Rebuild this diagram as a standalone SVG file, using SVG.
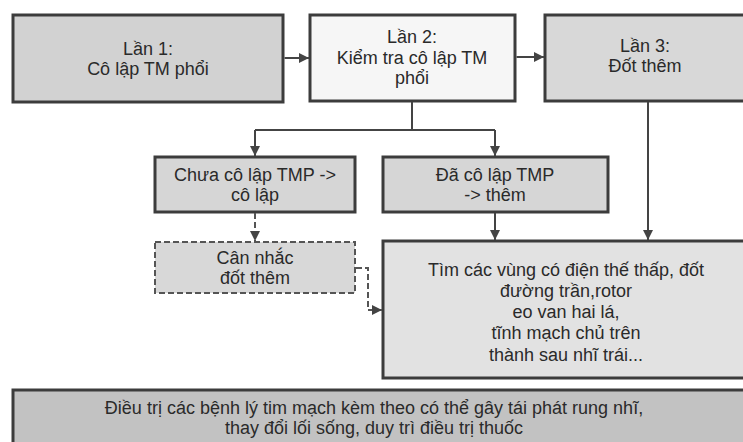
<svg xmlns="http://www.w3.org/2000/svg" width="743" height="442" viewBox="0 0 743 442">
<style>
.box{stroke:#3c3c3c;stroke-width:3}
.t{font-family:"Liberation Sans",Arial,sans-serif;font-size:18px;fill:#2a2a2a;text-anchor:middle}
.c{fill:none;stroke:#444;stroke-width:2}
.d{fill:none;stroke:#555;stroke-width:2;stroke-dasharray:6 3}
</style>
<defs>
<marker id="ah" viewBox="0 0 10 10" refX="10" refY="5" markerWidth="5" markerHeight="5" orient="auto" markerUnits="strokeWidth">
<path d="M0,0 L10,5 L0,10 z" fill="#444"/>
</marker>
</defs>
<rect width="743" height="442" fill="#ffffff"/>
<g id="n1">
<rect class="box" x="13" y="15" width="270" height="87" fill="#d2d2d2"/>
<text class="t" x="148" y="55">Lần 1:</text>
<text class="t" x="148" y="75">Cô lập TM phổi</text>
</g>
<g id="n2">
<rect class="box" x="310" y="15" width="205" height="86" fill="#f6f6f6"/>
<text class="t" x="412" y="43">Lần 2:</text>
<text class="t" x="412" y="64">Kiểm tra cô lập TM</text>
<text class="t" x="412" y="84">phổi</text>
</g>
<g id="n3">
<rect class="box" x="545" y="15" width="202" height="86" fill="#d8d8d8"/>
<text class="t" x="645" y="52">Lần 3:</text>
<text class="t" x="645" y="72">Đốt thêm</text>
</g>
<g id="n4">
<rect class="box" x="155" y="157" width="200" height="55" fill="#d6d6d6" stroke-width="2.5"/>
<text class="t" x="255" y="181">Chưa cô lập TMP -&gt;</text>
<text class="t" x="255" y="201">cô lập</text>
</g>
<g id="n5">
<rect class="box" x="383" y="157" width="225" height="55" fill="#d6d6d6" stroke-width="2.5"/>
<text class="t" x="495" y="181">Đã cô lập TMP</text>
<text class="t" x="495" y="201">-&gt; thêm</text>
</g>
<g id="n6">
<rect x="155" y="242" width="200" height="51" fill="#d8d8d8" stroke="#555" stroke-width="2" stroke-dasharray="6 3"/>
<text class="t" x="255" y="264">Cân nhắc</text>
<text class="t" x="255" y="284">đốt thêm</text>
</g>
<g id="n7">
<rect class="box" x="383" y="241" width="362" height="137" fill="#e2e2e2"/>
<text class="t" x="566" y="276">Tìm các vùng có điện thế thấp, đốt</text>
<text class="t" x="566" y="297">đường trần,rotor</text>
<text class="t" x="566" y="318">eo van hai lá,</text>
<text class="t" x="566" y="339">tĩnh mạch chủ trên</text>
<text class="t" x="566" y="361">thành sau nhĩ trái...</text>
</g>
<g id="n8">
<rect class="box" x="13" y="390" width="732" height="60" fill="#c2c2c2"/>
<text class="t" x="374" y="414">Điều trị các bệnh lý tim mạch kèm theo có thể gây tái phát rung nhĩ,</text>
<text class="t" x="374" y="434">thay đổi lối sống, duy trì điều trị thuốc</text>
</g>
<g id="connectors">
<path class="c" d="M284.5,58 H309" stroke-width="3" marker-end="url(#ah)"/>
<path class="c" d="M516.5,57 H544" stroke-width="3" marker-end="url(#ah)"/>
<path class="c" d="M412,102 V130 H495 M412,130 H255"/>
<path class="c" d="M255,130 V156" marker-end="url(#ah)"/>
<path class="c" d="M495,130 V156" marker-end="url(#ah)"/>
<path class="c" d="M495,213 V240" marker-end="url(#ah)"/>
<path class="c" d="M648,102 V240" marker-end="url(#ah)"/>
<path class="d" d="M255,213 V241" marker-end="url(#ah)"/>
<path class="d" d="M356,268 H368 V310 H382" marker-end="url(#ah)"/>
</g>
</svg>
